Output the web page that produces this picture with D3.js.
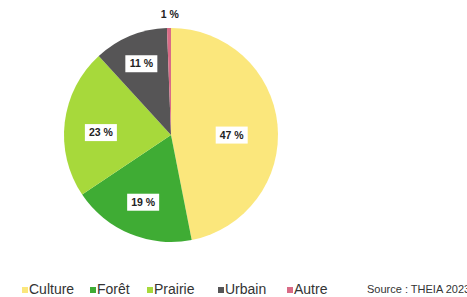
<!DOCTYPE html>
<html>
<head>
<meta charset="utf-8">
<script src="https://cdn.jsdelivr.net/npm/d3@7"></script>
<style>
  body { margin: 0; background: #fff; }
  svg { display: block; font-family: "Liberation Sans", Arial, sans-serif; }
</style>
</head>
<body>
<div class="chart-area"></div>
<script>
// land use shares (%)
const categories = ["Culture", "Forêt", "Prairie", "Urbain", "Autre"];
const shares = [46.9, 18.7, 22.6, 11.2, 0.6];
const labels = ["47 %", "19 %", "23 %", "11 %", "1 %"];
const colors = ["#fbe77c", "#3fac34", "#a7d93b", "#565556", "#d96b86"];
const source = "Source : THEIA 2023";

const width = 467, height = 297;
const cx = 171, cy = 135, radius = 107;

const svg = d3.select('.chart-area').append('svg')
    .attr('width', width).attr('height', height);

const data = categories.map((c, i) => ({ cat: c, value: shares[i], label: labels[i], color: colors[i] }));

const pie = d3.pie().sort(null).value(d => d.value);
const arcs = pie(data);
const arc = d3.arc().innerRadius(0).outerRadius(radius);

const g = svg.append("g").attr("transform", `translate(${cx},${cy})`);

g.selectAll("path")
    .data(arcs)
    .join("path")
    .attr("d", arc)
    .attr("fill", d => d.data.color);

// inside labels in white boxes (excel "best fit" puts them at slightly different spots)
const labelR = [0.57, 0.68, 0.66, 0.73];
const labelDy = [6, 0, 6, 1];
const lab = g.selectAll("g.lab")
    .data(arcs.slice(0, 4))
    .join("g")
    .attr("class", "lab")
    .attr("transform", (d, i) => {
        const a = (d.startAngle + d.endAngle) / 2;
        const r = radius * labelR[i];
        return `translate(${r * Math.sin(a)},${-r * Math.cos(a) + labelDy[i]})`;
    });

lab.append("rect")
    .attr("x", -16).attr("y", -8.5)
    .attr("width", 32).attr("height", 17)
    .attr("fill", "#fff");

lab.append("text")
    .attr("text-anchor", "middle")
    .attr("dy", "0.35em")
    .attr("font-size", 10.5)
    .attr("font-weight", "bold")
    .attr("fill", "#222")
    .text(d => d.data.label);

// the tiny slice gets its label outside, above the pie
const small = arcs[4];
const sa = (small.startAngle + small.endAngle) / 2;
g.append("text")
    .attr("x", (radius + 14) * Math.sin(sa) + 1)
    .attr("y", -(radius + 14) * Math.cos(sa))
    .attr("text-anchor", "middle")
    .attr("dy", "0.35em")
    .attr("font-size", 10.5)
    .attr("font-weight", "bold")
    .attr("fill", "#222")
    .text(small.data.label);

// legend
const legendX = [22, 90, 147, 218, 287];
const legendY = 294;
const leg = svg.append("g").selectAll("g")
    .data(data)
    .join("g")
    .attr("transform", (d, i) => `translate(${legendX[i]},${legendY})`);

leg.append("rect")
    .attr("x", 0).attr("y", -7)
    .attr("width", 6).attr("height", 6)
    .attr("fill", d => d.color);

leg.append("text")
    .attr("x", 7)
    .attr("font-size", 14)
    .attr("fill", "#333")
    .text(d => d.cat);

svg.append("text")
    .attr("x", 367).attr("y", legendY - 1)
    .attr("font-size", 11)
    .attr("fill", "#333")
    .text(source);
</script>
</body>
</html>
